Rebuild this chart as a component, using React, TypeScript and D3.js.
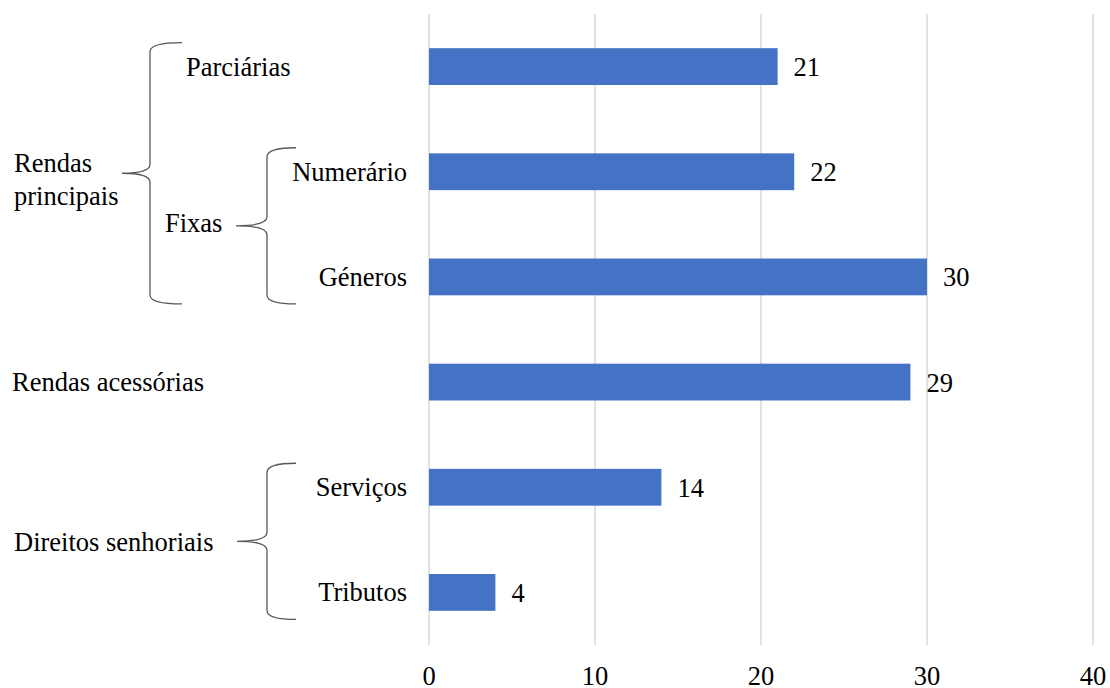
import React from "react";
import * as d3 from "d3";

// Number of occurrences per type of revenue
const categories = ["Parciárias", "Numerário", "Géneros", "Rendas acessórias", "Serviços", "Tributos"];
const values = [21, 22, 30, 29, 14, 4];
const xTicks = [0, 10, 20, 30, 40];

// Labels in the column right next to the bars
const innerLabels = ["Numerário", "Géneros", "Serviços", "Tributos"];

// Hierarchical grouping drawn with braces
const fixasMembers = ["Numerário", "Géneros"];
const principaisMembers = ["Parciárias", "Géneros"];
const senhoriaisMembers = ["Serviços", "Tributos"];

const W = 1110;
const H = 688;
const FONT = "Liberation Serif";
const FS = 26.5;
const BAR = "#4472C4";
const GRID = "#D9D9D9";
const BRACE = "#595959";

function bracePath(tipX: number, spineX: number, armX: number, top: number, bottom: number) {
  const mid = (top + bottom) / 2;
  const r = 9;
  return [
    `M${armX},${top}`,
    `Q${spineX},${top} ${spineX},${top + r}`,
    `L${spineX},${mid - r}`,
    `Q${spineX},${mid} ${tipX},${mid}`,
    `Q${spineX},${mid} ${spineX},${mid + r}`,
    `L${spineX},${bottom - r}`,
    `Q${spineX},${bottom} ${armX},${bottom}`,
  ].join(" ");
}

export default function App() {
  const x = d3.scaleLinear().domain([0, 40]).range([429, 1093]);
  const y = d3
    .scaleBand<string>()
    .domain(categories)
    .range([14, 645])
    .paddingInner(0.65)
    .paddingOuter(0.325);
  const bw = y.bandwidth();
  const cy = (c: string) => (y(c) ?? 0) + bw / 2;

  const braceSpan = (members: string[]) => {
    const top = cy(members[0]) - 24;
    const bottom = cy(members[members.length - 1]) + 27;
    return { top, bottom, mid: (top + bottom) / 2 };
  };
  const bPrin = braceSpan(principaisMembers);
  const bFix = braceSpan(fixasMembers);
  const bSen = braceSpan(senhoriaisMembers);

  return (
    <svg
      width={W}
      height={H}
      style={{ position: "absolute", left: 0, top: 0, background: "#fff" }}
    >
      {/* vertical gridlines */}
      {xTicks.map((t) => (
        <line key={`g${t}`} x1={x(t)} x2={x(t)} y1={14} y2={645} stroke={GRID} strokeWidth={1.5} />
      ))}

      {/* bars */}
      {categories.map((c, i) => (
        <rect key={c} x={x(0)} y={y(c)} width={x(values[i]) - x(0)} height={bw} fill={BAR} />
      ))}

      <g fontFamily={FONT} fontSize={FS} fill="#000">
        {/* value labels */}
        {categories.map((c, i) => (
          <text key={`v${c}`} x={x(values[i]) + 16} y={cy(c) + 9.5}>
            {values[i]}
          </text>
        ))}

        {/* x tick labels */}
        {xTicks.map((t) => (
          <text key={`t${t}`} x={x(t)} y={684.5} textAnchor="middle">
            {t}
          </text>
        ))}

        {/* right-aligned sub-category labels */}
        {innerLabels.map((l) => (
          <text key={`l${l}`} x={407} y={cy(l) + 9} textAnchor="end">
            {l}
          </text>
        ))}

        {/* second level */}
        <text x={186} y={cy("Parciárias") + 9}>Parciárias</text>
        <text x={165} y={bFix.mid + 6}>Fixas</text>

        {/* first level */}
        <text x={14} y={bPrin.mid - 1}>Rendas</text>
        <text x={14} y={bPrin.mid + 32}>principais</text>
        <text x={12} y={cy("Rendas acessórias") + 9}>Rendas acessórias</text>
        <text x={14} y={bSen.mid + 10}>Direitos senhoriais</text>
      </g>

      {/* braces */}
      <g fill="none" stroke={BRACE} strokeWidth={1.3}>
        <path d={bracePath(122, 150, 182, bPrin.top, bPrin.bottom)} />
        <path d={bracePath(236, 267, 296, bFix.top, bFix.bottom)} />
        <path d={bracePath(237, 267, 296, bSen.top, bSen.bottom)} />
      </g>
    </svg>
  );
}
